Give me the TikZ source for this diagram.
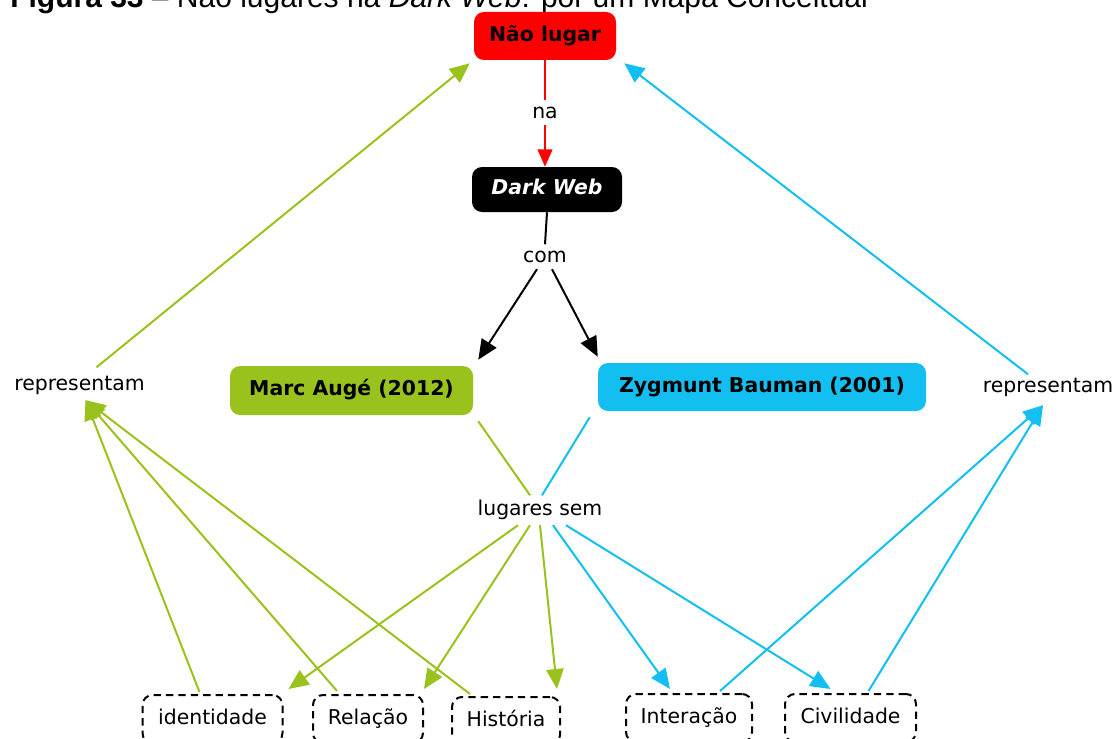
\documentclass[tikz,border=0pt]{standalone}
\usepackage{fontspec}
\setmainfont{DejaVu Sans}
\newfontfamily\capfont{Liberation Sans}
\usetikzlibrary{arrows.meta,calc}
\definecolor{mgreen}{RGB}{153,194,28}
\definecolor{mcyan}{RGB}{18,191,240}
\definecolor{mred}{RGB}{255,0,0}
\begin{document}
\begin{tikzpicture}[x=0.75pt,y=-0.75pt,
  mapfont/.style={font=\fontsize{15.3pt}{18pt}\selectfont},
  fixtext/.style={text height=11.6pt,text depth=3.7pt},
  conc/.style={mapfont,fixtext,font=\fontsize{15.3pt}{18pt}\selectfont\bfseries,rounded corners=7.5pt,inner sep=0pt,align=center},
  dbox/.style={mapfont,fixtext,draw=black,line width=1.5pt,dash pattern=on 5.5pt off 3.8pt,rounded corners=7.5pt,inner sep=0pt,minimum height=36pt},
  lab/.style={mapfont,fixtext,inner sep=1.5pt,anchor=base},
  link/.style={line width=1.5pt},
  arr/.style={line width=1.5pt,-{Triangle[length=15pt,width=13pt]}},
  redarr/.style={line width=1.5pt,-{Triangle[length=13pt,width=11pt]}},
]
\useasboundingbox (0,0) rectangle (1119,738);
\clip (0,0) rectangle (1119,738);

% caption (cut off at the top)
\node[font=\capfont\fontsize{22.5pt}{27pt}\selectfont,anchor=base west,inner sep=0pt] (caption) at (10,8)
  {\textbf{Figura 33} – Não lugares na \textit{Dark Web}: por um Mapa Conceitual};

% concepts
\node[conc,fill=mred,text=black,minimum width=106.5pt,minimum height=36pt] (nao) at (545,36) {Não lugar};
\node[lab] (na) at (545,118) {na};
\node[conc,fill=black,text=white,minimum width=112.5pt,minimum height=33.75pt,font=\fontsize{15.3pt}{18pt}\selectfont\bfseries\itshape] (dw) at (547,189.5) {Dark Web};
\node[lab] (com) at (545,262) {com};
\node[conc,fill=mgreen,text=black,minimum width=182.25pt,minimum height=36.75pt] (marc) at (351.5,390.5) {Marc Augé (2012)};
\node[conc,fill=mcyan,text=black,minimum width=246pt,minimum height=36pt] (zyg) at (762,387) {Zygmunt Bauman (2001)};
\node[lab] (repL) at (79.5,390) {representam};
\node[lab] (repR) at (1048,392) {representam};
\node[lab] (lug) at (540,515) {lugares sem};

\node[dbox,minimum width=105pt] (ident) at (212.5,719) {identidade};
\node[dbox,minimum width=82.5pt] (rel) at (368,719) {Relação};
\node[dbox,minimum width=81pt] (hist) at (506,721) {História};
\node[dbox,minimum width=94.5pt] (inter) at (689,718) {Interação};
\node[dbox,minimum width=98.25pt] (civ) at (850.5,718) {Civilidade};

% red link
\draw[link,mred] (nao.south) -- (na.north);
\draw[redarr,mred] (na.south) -- (na.south |- dw.north);

% black links
\draw[link,black] (dw.south) -- (com.north);
\draw[arr,black] ($(com.south)+(-8,0)$) -- ($(marc.north east)+(5,-6)$);
\draw[arr,black] ($(com.south)+(7,0)$) -- ($(zyg.north west)+(0,-6)$);

% to lugares sem
\draw[link,mgreen] ($(marc.south east)+(5,6)$) -- ($(lug.north)+(-10,-2)$);
\draw[link,mcyan] ($(zyg.south west)+(-8,6)$) -- ($(lug.north)+(2,-2)$);

% from lugares sem
\draw[arr,mgreen] ($(lug.south)+(-22,3)$) -- ($(ident.north east)+(5,-5)$);
\draw[arr,mgreen] ($(lug.south)+(-10,3)$) -- ($(rel.north east)+(0,-5)$);
\draw[arr,mgreen] ($(lug.south)+(0,3)$) -- ($(hist.north east)+(-4,-7)$);
\draw[arr,mcyan] ($(lug.south)+(13,3)$) -- ($(inter.north)+(-19,-4)$);
\draw[arr,mcyan] ($(lug.south)+(26,3)$) -- ($(civ.north)+(-20,-4)$);

% to representam
\draw[arr,mgreen] ($(ident.north)+(-13,-2)$) -- ($(repL.south)+(6,3)$);
\draw[arr,mgreen] ($(rel.north)+(-31,-3)$) -- ($(repL.south)+(6,3)$);
\draw[arr,mgreen] ($(hist.north)+(-36,-2)$) -- ($(repL.south)+(6,3)$);
\draw[arr,mcyan] ($(inter.north)+(31,-2)$) -- ($(repR.south)+(-5,6)$);
\draw[arr,mcyan] ($(civ.north)+(18,-2)$) -- ($(repR.south)+(-5,6)$);

% representam to Nao lugar
\draw[arr,mgreen] ($(repL.north)+(17,-5)$) -- ($(nao.south west)+(-4,3)$);
\draw[arr,mcyan] ($(repR.north)+(-20,0)$) -- ($(nao.south east)+(8,3)$);
\end{tikzpicture}
\end{document}
